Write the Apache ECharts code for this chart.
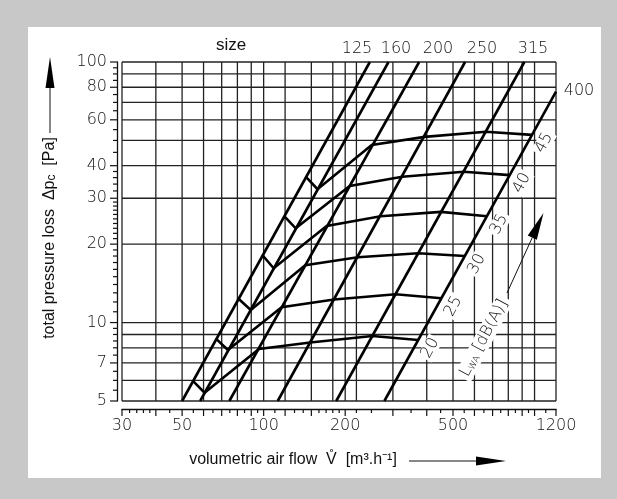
<!DOCTYPE html>
<html><head><meta charset="utf-8">
<script src="https://cdn.jsdelivr.net/npm/echarts@6/dist/echarts.min.js"></script>
<style>html,body{margin:0;padding:0;background:#c8c8c8;}#c{width:617px;height:499px;}</style>
</head><body><div id="c"></div>
<script>
// ---- axis ranges / grid / ticks ----
const xRange = [30, 1200];
const yRange = [5, 100];
const xGridValues = [30,40,50,60,70,80,90,100,120,150,180,200,220,300,400,500,600,700,800,900,1000,1200];
const yGridValues = [5,6,7,8,9,10,20,30,40,50,60,70,80,90,100];
const xTickLabels = [30,50,100,200,500,1200];
const yTickLabels = [5,7,10,20,30,40,60,80,100];
const xMajorTicks = [30,40,50,60,70,80,90,100,120,150,200,300,400,500,600,700,800,900,1000,1200];
const xMinorTicks = [32,34,36,38,45,55,65,75,85,95,110,130,140,160,170,180,190,220,250,350,450,550,650,750,850,950,1100];
const yMinorTicks = [5.5,6,6.5,7.5,8,8.5,9,9.5,11,12,13,14,15,16,17,18,19,21,22,23,24,25,26,27,28,29,32,34,36,38,45,50,55,65,70,75,85,90,95];

// ---- size lines (duct size) ----
const sizeNames = ['125','160','200','250','315','400'];
const size125 = [[50,5],[246.6,100]];
const size160 = [[58.3,5],[289,100]];
const size200 = [[74.7,5],[375,100]];
const size250 = [[112.7,5],[554,100]];
const size315 = [[185.3,5],[917,100]];
const size400 = [[279,5],[1200,77]];

// ---- sound power level curves L_WA [dB(A)] ----
const dBNames = ['20','25','30','35','40','45'];
const dB20 = [[54.8,5.97],[60.5,5.38],[96.1,7.92],[148.6,8.38],[252,8.88],[372,8.57]];
const dB25 = [[66.5,8.70],[73.8,7.85],[116.5,11.44],[182,12.26],[307,12.84],[453,12.39]];
const dB30 = [[80.4,12.39],[89.6,11.17],[142.4,16.6],[222.6,17.8],[372,18.44],[553,18.0]];
const dB35 = [[98.9,18.17],[108.9,16.15],[170.9,23.5],[270.5,25.6],[451,26.6],[668,25.6]];
const dB40 = [[119.6,25.5],[131.3,23.0],[207.9,33.4],[325,36.3],[547.6,37.9],[810.7,36.8]];
const dB45 = [[143,36.3],[158,32.5],[250.7,48.0],[393,51.6],[661,54.0],[979,52.5]];

const sizeLines = [size125,size160,size200,size250,size315,size400];
const dBCurves = [dB20,dB25,dB30,dB35,dB40,dB45];

const NUM_FONT = '200 16px "DejaVu Sans", Roboto, sans-serif';
const TXT_FONT = '16px "Liberation Sans", Arial, sans-serif';
const GRID_COLOR = '#222';
const ANG = 62 * Math.PI / 180;

const chart = echarts.init(document.getElementById('c'));
const series = [];

// grid lines
series.push({
  type:'custom', silent:true, z:1,
  data: xGridValues.map(v => [v, yRange[0]]),
  renderItem:(p, api) => {
    const v = api.value(0);
    const a = api.coord([v, yRange[0]]), b = api.coord([v, yRange[1]]);
    return {type:'line', shape:{x1:a[0],y1:a[1],x2:b[0],y2:b[1]}, style:{stroke:GRID_COLOR,lineWidth:1.3}};
  }
});
series.push({
  type:'custom', silent:true, z:1,
  data: yGridValues.map(v => [xRange[0], v]),
  renderItem:(p, api) => {
    const v = api.value(1);
    const a = api.coord([xRange[0], v]), b = api.coord([xRange[1], v]);
    return {type:'line', shape:{x1:a[0],y1:a[1],x2:b[0],y2:b[1]}, style:{stroke:GRID_COLOR,lineWidth:1.3}};
  }
});
// x ticks (axis line offset 8px below plot)
function xTick(len){
  return (p, api) => {
    const c = api.coord([api.value(0), yRange[0]]);
    const y = c[1] + 8;
    return {type:'line', shape:{x1:c[0],y1:y,x2:c[0],y2:y+len}, style:{stroke:'#111',lineWidth:1.2}};
  };
}
series.push({type:'custom', silent:true, z:1, data:xMajorTicks.map(v=>[v,yRange[0]]), renderItem:xTick(7)});
series.push({type:'custom', silent:true, z:1, data:xMinorTicks.map(v=>[v,yRange[0]]), renderItem:xTick(4)});
function yTick(len){
  return (p, api) => {
    const c = api.coord([xRange[0], api.value(1)]);
    const x = c[0] - 5;
    return {type:'line', shape:{x1:x-len,y1:c[1],x2:x,y2:c[1]}, style:{stroke:'#111',lineWidth:1.2}};
  };
}
series.push({type:'custom', silent:true, z:1, data:yTickLabels.map(v=>[xRange[0],v]), renderItem:yTick(7)});
series.push({type:'custom', silent:true, z:1, data:yMinorTicks.map(v=>[xRange[0],v]), renderItem:yTick(4)});
// tick labels
series.push({type:'custom', silent:true, z:3, data:xTickLabels.map(v=>[v,yRange[0]]),
  renderItem:(p, api) => {
    const v = api.value(0); const c = api.coord([v, yRange[0]]);
    return {type:'text', x:c[0], y:c[1]+25, style:{text:String(v), font:NUM_FONT, fill:'#111', align:'center', verticalAlign:'middle'}};
  }});
series.push({type:'custom', silent:true, z:3, data:yTickLabels.map(v=>[xRange[0],v]),
  renderItem:(p, api) => {
    const v = api.value(1); const c = api.coord([xRange[0], v]);
    return {type:'text', x:c[0]-15, y:c[1], style:{text:String(v), font:NUM_FONT, fill:'#111', align:'right', verticalAlign:'middle'}};
  }});

// size lines
sizeLines.forEach((d, i) => series.push({
  type:'line', name:'size ' + sizeNames[i], data:d, symbol:'none', z:5, silent:true,
  lineStyle:{color:'#000', width:2.6}
}));
// dB curves
dBCurves.forEach((d, i) => series.push({
  type:'line', name:dBNames[i] + ' dB(A)', data:d, symbol:'none', z:5, silent:true,
  lineStyle:{color:'#000', width:2.6, join:'miter'}
}));
// dB labels at curve ends
series.push({type:'custom', silent:true, z:4,
  data: dBCurves.map((d, i) => [d[d.length-1][0], d[d.length-1][1], i]),
  renderItem:(p, api) => {
    const c = api.coord([api.value(0), api.value(1)]);
    const i = api.value(2);
    return {type:'text', x:c[0]+12, y:c[1]+8, rotation:ANG,
      style:{text:dBNames[i], font:NUM_FONT, fill:'#111', align:'center', verticalAlign:'middle', backgroundColor:'#fff', padding:[0,2]}};
  }});

// arrow for LWA
const T = [543.5, 213], S = [507, 293];
const dx = T[0]-S[0], dy = T[1]-S[1], L = Math.hypot(dx, dy);
const ux = dx/L, uy = dy/L, nx = -uy, ny = ux;
const B = [T[0]-27*ux, T[1]-27*uy];

const option = {
  backgroundColor:'#c8c8c8',
  animation:false,
  grid:{left:122, right:61, top:62, bottom:98},
  xAxis:{type:'log', logBase:10, min:xRange[0], max:xRange[1], offset:8,
    axisLine:{show:true, lineStyle:{color:'#111', width:1.3}},
    axisTick:{show:false}, axisLabel:{show:false}, splitLine:{show:false}, minorTick:{show:false}},
  yAxis:{type:'log', logBase:10, min:yRange[0], max:yRange[1], offset:5,
    axisLine:{show:true, lineStyle:{color:'#111', width:1.3}},
    axisTick:{show:false}, axisLabel:{show:false}, splitLine:{show:false}, minorTick:{show:false}},
  graphic:[
    {type:'rect', z:-100, shape:{x:28, y:27, width:573, height:451}, style:{fill:'#fff'}},
    {type:'text', x:231, y:45, z:10, style:{text:'size', font:'17px "Liberation Sans", Arial, sans-serif', fill:'#111', align:'center', verticalAlign:'middle'}},
    {type:'text', x:357, y:49, z:10, style:{text:sizeNames[0], font:NUM_FONT, fill:'#111', align:'center', verticalAlign:'middle'}},
    {type:'text', x:396, y:49, z:10, style:{text:sizeNames[1], font:NUM_FONT, fill:'#111', align:'center', verticalAlign:'middle'}},
    {type:'text', x:438, y:49, z:10, style:{text:sizeNames[2], font:NUM_FONT, fill:'#111', align:'center', verticalAlign:'middle'}},
    {type:'text', x:482, y:49, z:10, style:{text:sizeNames[3], font:NUM_FONT, fill:'#111', align:'center', verticalAlign:'middle'}},
    {type:'text', x:533, y:49, z:10, style:{text:sizeNames[4], font:NUM_FONT, fill:'#111', align:'center', verticalAlign:'middle'}},
    {type:'text', x:579, y:91, z:10, style:{text:sizeNames[5], font:NUM_FONT, fill:'#111', align:'center', verticalAlign:'middle'}},
    // y title
    {type:'text', x:50, y:238, rotation:Math.PI/2, z:10, style:{
      text:'total pressure loss  \u0394p{s|c}  [Pa]', font:TXT_FONT, fill:'#111', align:'center', verticalAlign:'middle',
      rich:{s:{font:'12px "Liberation Sans", Arial, sans-serif', fill:'#111', verticalAlign:'bottom', padding:[4,0,0,0]}}}},
    {type:'line', z:10, shape:{x1:50, y1:133, x2:50, y2:85}, style:{stroke:'#111', lineWidth:1}},
    {type:'polygon', z:10, shape:{points:[[50,57],[45.5,88],[54.5,88]]}, style:{fill:'#000'}},
    // x title
    {type:'text', x:293, y:460, z:10, style:{
      text:'volumetric air flow  V\u030A  [m\u00B3.h\u207B\u00B9]', font:TXT_FONT, fill:'#111', align:'center', verticalAlign:'middle'}},
    {type:'line', z:10, shape:{x1:409, y1:461, x2:480, y2:461}, style:{stroke:'#111', lineWidth:1}},
    {type:'polygon', z:10, shape:{points:[[506,461],[476,456.5],[476,465.5]]}, style:{fill:'#000'}},
    // L_WA label and arrow
    {type:'text', x:484, y:338, rotation:ANG, z:6, style:{
      text:'L{s|WA} [dB(A)]', font:NUM_FONT, fill:'#111', align:'center', verticalAlign:'middle', backgroundColor:'#fff', padding:[1,3],
      rich:{s:{font:'200 9px "DejaVu Sans", Roboto, sans-serif', fill:'#111', verticalAlign:'bottom'}}}},
    {type:'line', z:6, shape:{x1:S[0], y1:S[1], x2:B[0], y2:B[1]}, style:{stroke:'#111', lineWidth:1}},
    {type:'polygon', z:6, shape:{points:[T,[B[0]+5*nx,B[1]+5*ny],[B[0]-5*nx,B[1]-5*ny]]}, style:{fill:'#000'}}
  ],
  series: series
};
chart.setOption(option);
</script>
</body></html>
